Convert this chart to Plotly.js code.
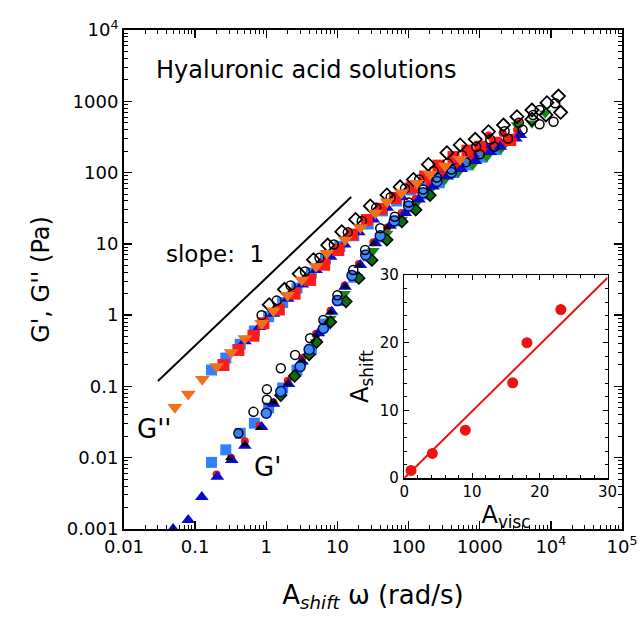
<!DOCTYPE html>
<html>
<head>
<meta charset="utf-8">
<script src="https://cdn.plot.ly/plotly-3.0.1.min.js"></script>
<style>html,body{margin:0;padding:0;background:#fff;}#chart{width:642px;height:619px;}</style>
</head>
<body>
<div id="chart"></div>
<script>
// ---------- main plot data (shifted frequency A_shift*omega, modulus in Pa) ----------
// orange down-triangles (G'')
const orangeX = [0.052,0.08,0.126,0.2,0.32,0.5,0.86,1.26,2.0,3.16,5.0,7.1,12.8,21,34,50,80,131,200,327,532];
const orangeY = [0.051,0.078,0.126,0.19,0.30,0.47,0.77,1.15,1.9,3.1,4.8,7.4,11.4,17,27,39,52,71,95,124,154];

// light blue squares (G'' and G')
const lbX   = [0.17,0.27,0.43,0.68,1.08,1.7,2.7,4.3,6.8,10.8,17,27,43,68,108,170,270,430,680,1080,1700];
const lbGpp = [0.17,0.25,0.39,0.6,0.95,1.5,2.4,3.9,6.1,9.2,13,19,29,40,57,78,102,130,165,205,240];
const lbGp  = [0.0086,0.0129,0.022,0.0305,0.05,0.095,0.17,0.33,0.75,1.6,3.4,6.8,12.5,21,33,50,72,100,128,165,210];

// red squares (G'')
const rsqX = [0.25,0.405,0.66,0.91,1.5,2.5,4.13,6.5,10.3,16,25.9,41,64.7,111,171,263,428,673,1016,1652,2690];
const rsqY = [0.2,0.325,0.515,0.77,1.2,2.0,3.12,5.1,8.2,13.5,21.6,31,44,62,88,125,165,203,231,262,286];

// red circles (G')
const rciX = [0.2,0.32,0.5,0.8,1.26,2,3.2,5,8,12.6,20,32,50,80,126,200,320,500,800,1260,2000,3000];
const rciY = [0.0058,0.01,0.017,0.028,0.06,0.12,0.25,0.55,1.15,2.6,5.2,10.5,17,27,43,66,90,118,150,195,250,310];
// red circles (G'', high frequency)
const rciHX = [1330,2100,3350,3510];
const rciHY = [330,360,395,491];

// dark blue up-triangles (G')
const dbX = [0.049,0.08,0.124,0.205,0.327,0.5,0.86,1.26,2.05,3.16,5.4,8.3,12.8,21,34,55,90,140,220,350,550,870,1400,1940,3715];
const dbY = [0.001,0.00134,0.0028,0.0054,0.0093,0.0147,0.027,0.057,0.108,0.223,0.557,1.12,2.5,5.06,10.2,18,27,42,64,88,112,145,195,231,337];
// dark blue up-triangles (G'')
const dbHX = [0.5,0.8,1.26,2,3.2,5,8,12.6,20,32,50,80,126,200,320,500,800,1260,2000,3200];
const dbHY = [0.43,0.68,1.05,1.7,2.7,4.3,6.6,9.8,14.5,22,32,45,62,84,110,140,180,220,255,300];

// green down-triangles (G')
const gtX = [3.2,5,8,12.6,18.7,32,50,80,126,200,320,500,800,1260,2000,3335,5420,8340];
const gtY = [0.2,0.42,0.9,2.0,3.47,8,14,22,36,56,78,100,128,165,215,465,492,680];

// green diamonds (G')
const gdX = [1.6,2.5,4,5.1,8,13.2,20,30.5,49.5,80.5,126,200];
const gdY = [0.075,0.14,0.28,0.42,0.8,1.55,3.3,5.9,11.4,20.5,30,48];

// blue circles (G')
const bcX = [1.0,1.6,2.99,4,6.35,10,16,25,40,63,100,160,250,400];
const bcY = [0.042,0.085,0.19,0.33,0.65,1.6,3.6,7,13,21,34,52,75,100];

// small black triangles (G')
const btX = [0.3,0.5,0.8,1.3,2,3.2,5,8,13,20,32,50];
const btY = [0.0098,0.0155,0.026,0.06,0.11,0.23,0.52,1.1,2.5,5.0,10,17];

// open circles (G' and G'')
const ocX1 = [0.405,0.66,1.02,1.02,1.6,2.54,4.13,6.35,10,16.7,24.5,40,64,100,160,250,400,640,1000,1600,2500,4000,6930,10900];
const ocY1 = [0.022,0.044,0.091,0.065,0.18,0.277,0.474,0.857,1.9,4.3,8.2,16.6,24,38,58,85,110,140,180,230,300,400,475,517];
const ocX2 = [0.86,1.4,2.2,3.5,5.6,8.9,14,22,35,56,89,141,224,355,562,891,1410,2240,3550,5620,6930,11500];
const ocY2 = [1.0,1.6,2.6,4.1,6.4,9.8,14.5,21,32,45,60,80,105,135,175,230,290,380,500,640,755,937];

// open diamonds (G'' and G')
const odX1 = [1.1,1.8,2.9,4.6,7.3,11.5,18,29,49.6,76,117,190,346,532,865,1330,2160,3335,5420,8810,12800];
const odY1 = [1.4,2.3,3.8,6.0,9.6,14.8,22,34,48.5,63,80,130,190,244,293,375,465,608,755,955,1185];
const odX2 = [5420,8530,13700];
const odY2 = [560,643,700];

// slope-1 guide line
const slopeX = [0.030,15.6];
const slopeY = [0.119,45.5];

// axis tick labels
const xTickVals = [0.01,0.1,1,10,100,1000,1e4,1e5];
const xTickText = ["0.01","0.1","1","10","100","1000","10<sup>4</sup>","10<sup>5</sup>"];
const yTickVals = [0.001,0.01,0.1,1,10,100,1000,1e4];
const yTickText = ["0.001","0.01","0.1","1","10","100","1000","10<sup>4</sup>"];

// ---------- inset data ----------
const aVisc  = [0.98,4.13,9.0,16.0,18.1,23.1];
const aShift = [1.13,3.64,7.08,14.07,20.0,24.9];
const fitX = [0,30];
const fitY = [0,29.6];

const FONT = "DejaVu Sans, sans-serif";

function mk(x, y, symbol, size, color, line, xa, ya) {
  return {x: x, y: y, type: 'scatter', mode: 'markers', xaxis: xa || 'x', yaxis: ya || 'y',
    marker: {symbol: symbol, size: size, color: color, line: line || {width: 0}}, hoverinfo: 'skip', showlegend: false};
}

const traces = [
  mk(lbX, lbGpp, 'square', 11, '#2F80FF'),
  mk(lbX, lbGp, 'square', 11, '#2F80FF'),
  mk(dbHX, dbHY, 'triangle-up', 12, '#0A0ACD'),
  mk(rsqX, rsqY, 'square', 12, '#FF1A1A'),
  mk(rciX, rciY, 'circle', 8, '#FF1010'),
  mk(rciHX, rciHY, 'circle', 8, '#FF1010'),
  mk(gtX, gtY, 'triangle-down', 11, '#148A14'),
  mk(dbX, dbY, 'triangle-up', 12, '#0A0ACD'),
  mk(gdX, gdY, 'diamond', 9, '#0B6E0B', {width: 1.5, color: '#000'}),
  mk(bcX, bcY, 'circle', 10, '#3A8EF2', {width: 1.5, color: '#0A0A70'}),
  mk(btX, btY, 'triangle-up', 7, '#000'),
  mk(ocX1, ocY1, 'circle-open', 9, '#000', {width: 1.5}),
  mk(ocX2, ocY2, 'circle-open', 9, '#000', {width: 1.5}),
  mk(odX1, odY1, 'diamond-open', 10, '#000', {width: 1.8}),
  mk(odX2, odY2, 'diamond-open', 10, '#000', {width: 1.8}),
  mk(orangeX, orangeY, 'triangle-down', 13, '#F0701E'),
  {x: slopeX, y: slopeY, type: 'scatter', mode: 'lines', line: {color: '#000', width: 2},
   hoverinfo: 'skip', showlegend: false},
  // inset
  {x: fitX, y: fitY, type: 'scatter', mode: 'lines', xaxis: 'x2', yaxis: 'y2',
   line: {color: '#F01010', width: 2}, hoverinfo: 'skip', showlegend: false},
  mk(aVisc, aShift, 'circle', 11, '#F01010', null, 'x2', 'y2')
];

const mainAxis = {
  type: 'log', showgrid: false, zeroline: false, showline: true, linecolor: '#000', linewidth: 2,
  mirror: 'allticks', ticks: 'inside', ticklen: 8, tickwidth: 1.5, tickcolor: '#000',
  tickmode: 'array', tickfont: {family: FONT, size: 18, color: '#000'},
  minor: {ticks: 'inside', ticklen: 4, tickwidth: 1, tickcolor: '#000', dtick: 'D1', showgrid: false}
};

const insetAxis = {
  range: [0, 30], showgrid: false, zeroline: false, showline: true, linecolor: '#000', linewidth: 1.5,
  mirror: 'allticks', ticks: 'inside', ticklen: 5, tickwidth: 1, tickcolor: '#000',
  dtick: 10, tick0: 0, tickfont: {family: FONT, size: 15, color: '#000'},
  minor: {ticks: 'inside', ticklen: 3, tickwidth: 1, tickcolor: '#000', dtick: 2, showgrid: false}
};

const layout = {
  width: 642, height: 619,
  margin: {l: 124, r: 20, t: 30, b: 90},
  paper_bgcolor: '#fff', plot_bgcolor: '#fff',
  font: {family: FONT, color: '#000'},
  xaxis: Object.assign({}, mainAxis, {range: [-2, 5], tickvals: xTickVals, ticktext: xTickText,
    title: {text: 'A<sub><i>shift</i></sub> ω (rad/s)', font: {family: FONT, size: 26}, standoff: 30}}),
  yaxis: Object.assign({}, mainAxis, {range: [-3, 4], tickvals: yTickVals, ticktext: yTickText,
    title: {text: "G', G'' (Pa)", font: {family: FONT, size: 24}, standoff: 10}}),
  xaxis2: Object.assign({}, insetAxis, {domain: [0.563, 0.971], anchor: 'y2', ticklabelstandoff: -1,
    title: {text: 'A<sub>visc</sub>', font: {family: FONT, size: 24}, standoff: 2}}),
  yaxis2: Object.assign({}, insetAxis, {domain: [0.102, 0.509], anchor: 'x2', ticklabelstandoff: 1,
    title: {text: 'A<sub>shift</sub>', font: {family: FONT, size: 24}, standoff: 4}}),
  annotations: [
    {xref: 'paper', yref: 'paper', x: 0.367, y: 0.92, text: 'Hyaluronic acid solutions', showarrow: false,
     xanchor: 'center', yanchor: 'middle', font: {family: FONT, size: 24, color: '#000'}},
    {xref: 'paper', yref: 'paper', x: 0.183, y: 0.551, text: 'slope:  1', showarrow: false,
     xanchor: 'center', yanchor: 'middle', font: {family: FONT, size: 23, color: '#000'}},
    {xref: 'paper', yref: 'paper', x: 0.06, y: 0.2, text: "G''", showarrow: false,
     xanchor: 'center', yanchor: 'middle', font: {family: FONT, size: 26, color: '#000'}},
    {xref: 'paper', yref: 'paper', x: 0.289, y: 0.124, text: "G'", showarrow: false,
     xanchor: 'center', yanchor: 'middle', font: {family: FONT, size: 26, color: '#000'}}
  ]
};

Plotly.newPlot('chart', traces, layout, {staticPlot: true, displayModeBar: false});
</script>
</body>
</html>
